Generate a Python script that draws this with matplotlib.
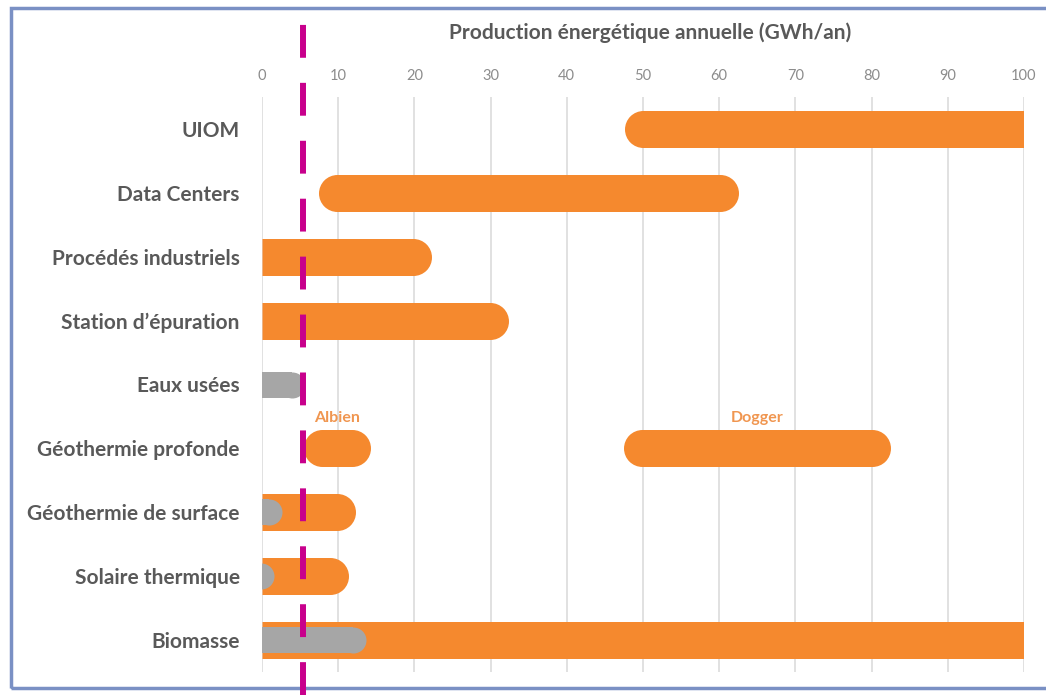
import matplotlib.pyplot as plt
from matplotlib.lines import Line2D
from matplotlib.patches import Rectangle
from matplotlib.transforms import blended_transform_factory

plt.rcParams['font.family'] = ['Lato', 'DejaVu Sans']

categories = ["UIOM", "Data Centers", "Procédés industriels", "Station d\u2019épuration",
              "Eaux usées", "Géothermie profonde", "Géothermie de surface",
              "Solaire thermique", "Biomasse"]

# orange ranges (row index, start, end) in GWh/an
orange_row = [0, 1, 2, 3, 5, 5, 6, 7, 8]
orange_start = [47.6, 7.4, 0, 0, 5.5, 47.4, 0, 0, 0]
orange_end = [100, 62.5, 22.3, 32.4, 14.3, 82.5, 12.3, 11.3, 100]

# grey ranges
grey_row = [4, 6, 7, 8]
grey_start = [0, 0, 0, 0]
grey_end = [5.6, 2.6, 1.6, 13.6]

deep_labels = ["Albien", "Dogger"]
deep_label_x = [9.9, 65.0]
threshold = 5.4

ticks = list(range(0, 101, 10))

ORANGE = "#F5892E"
GREY = "#A6A6A6"
TXT = "#595959"

fig = plt.figure(figsize=(10.46, 6.95), dpi=100)
ax = fig.add_axes([262 / 1046, 1 - 672 / 695, 762 / 1046, 575 / 695])
ax.set_xlim(0, 100)
ax.set_ylim(len(categories) - 0.5, -0.5)

# px per data unit, used to turn the rounded ends into data units
px_unit = ax.transData.transform((1, 0))[0] - ax.transData.transform((0, 0))[0]


def pill(y, x0, x1, color, h_px, z):
    # flat end at the axis limits, round end elsewhere
    size = h_px * 72 / fig.dpi
    r = h_px / 2 / px_unit
    left = x0 if x0 <= 0 else x0 + r
    right = x1 if x1 >= 100 else x1 - r
    if right > left:
        ax.plot([left, right], [y, y], color=color, lw=size,
                solid_capstyle='butt', zorder=z)
    caps = []
    if x0 > 0:
        caps.append(x0 + r)
    if x1 < 100:
        caps.append(x1 - r)
    if caps:
        ax.plot(caps, [y] * len(caps), 'o', color=color, ms=size, mew=0, zorder=z)


for row, s, e in zip(orange_row, orange_start, orange_end):
    pill(row, s, e, ORANGE, 37, 3)
for row, s, e in zip(grey_row, grey_start, grey_end):
    pill(row, s, e, GREY, 26, 4)

row_deep = categories.index("Géothermie profonde")
for lab, x in zip(deep_labels, deep_label_x):
    ax.text(x, row_deep - 0.48, lab, color="#F09650", fontsize=11.5,
            fontweight='bold', ha='center', va='center')

ax.set_xticks(ticks)
ax.xaxis.tick_top()
ax.tick_params(axis='x', length=0, pad=10, labelsize=10.5, labelcolor="#8C8C8C")
ax.set_yticks(range(len(categories)))
ax.set_yticklabels(categories, fontsize=15, fontweight='bold', color=TXT)
ax.tick_params(axis='y', length=0, pad=16)
ax.grid(axis='x', color="#DEDEDE", lw=1.3, zorder=0)
ax.set_axisbelow(True)
for sp in ax.spines.values():
    sp.set_visible(False)

fig.text(650 / 1046, 1 - 33 / 695, "Production énergétique annuelle (GWh/an)",
         ha='center', va='center', fontsize=15, fontweight='bold', color=TXT)

# dashed threshold line across the whole figure height
trans = blended_transform_factory(ax.transData, fig.transFigure)
fig.add_artist(Line2D([threshold, threshold], [0, 1 - 7 / 695], transform=trans,
                      color="#C8008C", lw=4.3, dashes=(5.5, 4.2), zorder=10))

# frame around the chart
fig.add_artist(Rectangle((11 / 1046, 7 / 695), 1.2, 1 - 15 / 695,
                         transform=fig.transFigure, fill=False,
                         edgecolor="#7A90C4", lw=2.5, zorder=1))

fig.savefig("out.png", dpi=100)
